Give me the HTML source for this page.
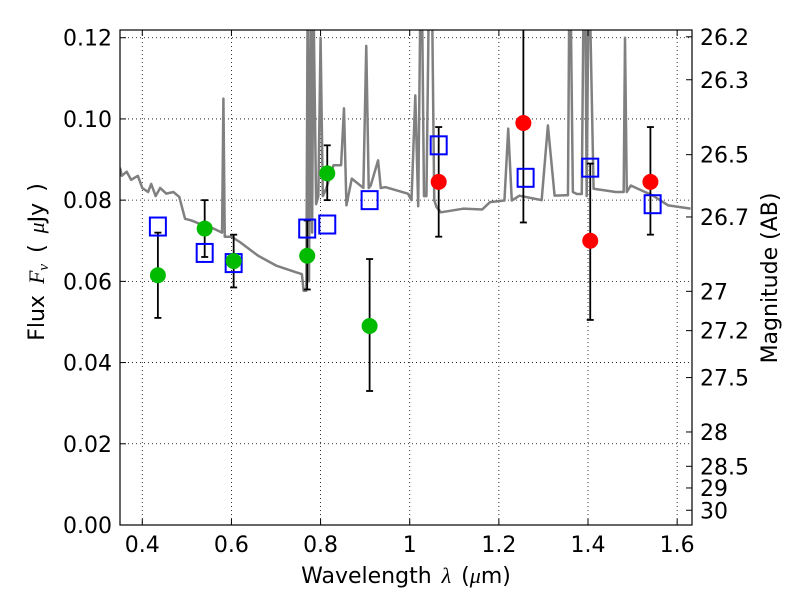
<!DOCTYPE html>
<html><head><meta charset="utf-8"><style>
body{margin:0;background:#fff;}
svg{font-family:"DejaVu Sans","Liberation Sans",sans-serif;}
</style></head><body>
<svg id="c" width="800" height="600" xmlns="http://www.w3.org/2000/svg"></svg>
<script>
const xTicks=[0.4,0.6,0.8,1.0,1.2,1.4,1.6];
const xTickLabels=["0.4","0.6","0.8","1","1.2","1.4","1.6"];
const yTicks=[0,0.02,0.04,0.06,0.08,0.10,0.12];
const yTickLabels=["0.00","0.02","0.04","0.06","0.08","0.10","0.12"];
const magTicks=[26.2,26.3,26.5,26.7,27,27.2,27.5,28,28.5,29,30];
const specWave=[0.35,0.354,0.365,0.375,0.39,0.40,0.413,0.42,0.43,0.44,0.454,0.47,0.483,0.496,0.51,0.54,0.56,0.579,0.582,0.585,0.60,0.62,0.66,0.70,0.746,0.758,0.762,0.768,0.771,0.774,0.778,0.781,0.784,0.79,0.795,0.80,0.805,0.8125,0.829,0.846,0.8525,0.858,0.87,0.896,0.9025,0.908,0.9125,0.929,0.935,0.946,0.996,1.004,1.0125,1.019,1.024,1.0275,1.032,1.0375,1.043,1.05,1.055,1.06,1.07,1.12,1.1625,1.18,1.2125,1.221,1.229,1.246,1.296,1.31,1.325,1.35,1.355,1.358,1.361,1.366,1.375,1.386,1.39,1.394,1.397,1.401,1.404,1.4125,1.4625,1.48,1.483,1.487,1.496,1.546,1.58,1.63];
const specFlux=[0.088,0.086,0.087,0.085,0.086,0.083,0.082,0.084,0.081,0.083,0.0816,0.082,0.0808,0.0754,0.075,0.0737,0.073,0.072,0.105,0.071,0.071,0.0696,0.0663,0.0639,0.0622,0.0618,0.0577,0.0577,0.13,0.06,0.13,0.072,0.13,0.079,0.081,0.12,0.081,0.0828,0.0886,0.0886,0.1026,0.0787,0.0853,0.083,0.118,0.083,0.0836,0.0898,0.083,0.0832,0.0816,0.080,0.1058,0.0785,0.13,0.13,0.081,0.081,0.13,0.13,0.08,0.0783,0.077,0.0779,0.0777,0.0795,0.0799,0.0976,0.0799,0.0811,0.080,0.0984,0.0811,0.0812,0.0812,0.13,0.13,0.082,0.0815,0.0815,0.13,0.13,0.081,0.13,0.13,0.0828,0.082,0.082,0.12,0.082,0.0836,0.0811,0.0787,0.0779];
const greenWave=[0.435,0.54,0.605,0.77,0.815,0.91];
const greenFlux=[0.0615,0.073,0.065,0.0663,0.0866,0.049];
const greenLo=[0.051,0.066,0.0585,0.058,0.080,0.033];
const greenHi=[0.072,0.080,0.0715,0.075,0.0935,0.0655];
const redWave=[1.065,1.255,1.405,1.54];
const redFlux=[0.0845,0.099,0.070,0.0845];
const redLo=[0.071,0.0745,0.0505,0.0715];
const redHi=[0.098,0.13,0.089,0.098];
const blueWave=[0.435,0.54,0.605,0.77,0.815,0.91,1.065,1.26,1.405,1.545];
const blueFlux=[0.0735,0.067,0.0645,0.073,0.074,0.080,0.0935,0.0855,0.088,0.079];

const L=120,R=692,T=30,B=525,X0=0.35,X1=1.6333,Y0=0,Y1=0.1219;
const sx=v=>L+(v-X0)/(X1-X0)*(R-L);
const sy=v=>B-(v-Y0)/(Y1-Y0)*(B-T);
const NS="http://www.w3.org/2000/svg";
const svg=document.getElementById('c');
function mk(t,a,p){const e=document.createElementNS(NS,t);for(const k in a)e.setAttribute(k,a[k]);(p||svg).appendChild(e);return e;}
const clip=mk('clipPath',{id:'pc'});mk('rect',{x:L,y:T,width:R-L,height:B-T},clip);
const g=mk('g',{'clip-path':'url(#pc)'});


xTicks.forEach((v,i)=>{
 const l=mk('line',{x1:sx(v),x2:sx(v),y1:T,y2:B,stroke:'#000','stroke-dasharray':'1,3','stroke-width':0.8},g);
 
 mk('line',{x1:sx(v),x2:sx(v),y1:B,y2:B-6,stroke:'#000'});mk('line',{x1:sx(v),x2:sx(v),y1:T,y2:T+6,stroke:'#000'});
 const t=mk('text',{x:sx(v),y:B+27,'text-anchor':'middle','font-size':22});t.textContent=xTickLabels[i];
 
});
yTicks.forEach((v,i)=>{
 const l=mk('line',{x1:L,x2:R,y1:sy(v),y2:sy(v),stroke:'#000','stroke-dasharray':'1,3','stroke-width':0.8},g);
 
 mk('line',{x1:L,x2:L+6,y1:sy(v),y2:sy(v),stroke:'#000'});
 const t=mk('text',{x:L-8,y:sy(v)+8,'text-anchor':'end','font-size':22});t.textContent=yTickLabels[i];
 
});
magTicks.forEach(m=>{
 const f=Math.pow(10,(23.9-m)/2.5);const y=sy(f);
 mk('line',{x1:R,x2:R-6,y1:y,y2:y,stroke:'#000'});
 const t=mk('text',{x:R+8,y:y+8,'font-size':22});t.textContent=String(m);
 
});
const sp=mk('polyline',{points:specWave.map((w,i)=>sx(w)+','+sy(specFlux[i])).join(' '),fill:'none',stroke:'#808080','stroke-width':2.5,'stroke-linejoin':'round'},g);

function eb(w,lo,hi){const x=sx(w);mk('line',{x1:x,x2:x,y1:sy(lo),y2:sy(hi),stroke:'#000','stroke-width':1.8},g);
 [lo,hi].forEach(v=>mk('line',{x1:x-3.5,x2:x+3.5,y1:sy(v),y2:sy(v),stroke:'#000','stroke-width':1.8},g));}
greenWave.forEach((w,i)=>eb(w,greenLo[i],greenHi[i]));
redWave.forEach((w,i)=>eb(w,redLo[i],redHi[i]));
blueWave.forEach((w,i)=>{const r=mk('rect',{x:sx(w)-8,y:sy(blueFlux[i])-9,width:16,height:18,fill:'none',stroke:'#0000ff','stroke-width':2},g);
 });
greenWave.forEach((w,i)=>{const c=mk('circle',{cx:sx(w),cy:sy(greenFlux[i]),r:8,fill:'#00bb00'},g);
 });
redWave.forEach((w,i)=>{const c=mk('circle',{cx:sx(w),cy:sy(redFlux[i]),r:8,fill:'#ff0000'},g);
 });
const fr=mk('rect',{x:L,y:T,width:R-L,height:B-T,fill:'none',stroke:'#000','stroke-width':1.2});

const xl=mk('text',{x:406,y:583,'text-anchor':'middle','font-size':22});xl.innerHTML='Wavelength  <tspan font-style="italic" font-family="Liberation Serif">λ</tspan> (<tspan font-style="italic" font-family="Liberation Serif">μ</tspan>m)';
xl.setAttribute('word-spacing','3');

const yl=mk('text',{x:0,y:0,'text-anchor':'middle','font-size':22,'word-spacing':'4',transform:'translate(44,262) rotate(-90)'});yl.innerHTML='Flux  <tspan font-style="italic" font-family="Liberation Serif">F</tspan><tspan font-style="italic" font-family="Liberation Serif" font-size="15" dy="4">ν</tspan><tspan dy="-4">  ( </tspan><tspan font-style="italic" font-family="Liberation Serif">μ</tspan>Jy )';

const rl=mk('text',{x:0,y:0,'text-anchor':'middle','font-size':22,transform:'translate(777,278) rotate(-90)'});rl.textContent='Magnitude (AB)';

</script>
</body></html>
